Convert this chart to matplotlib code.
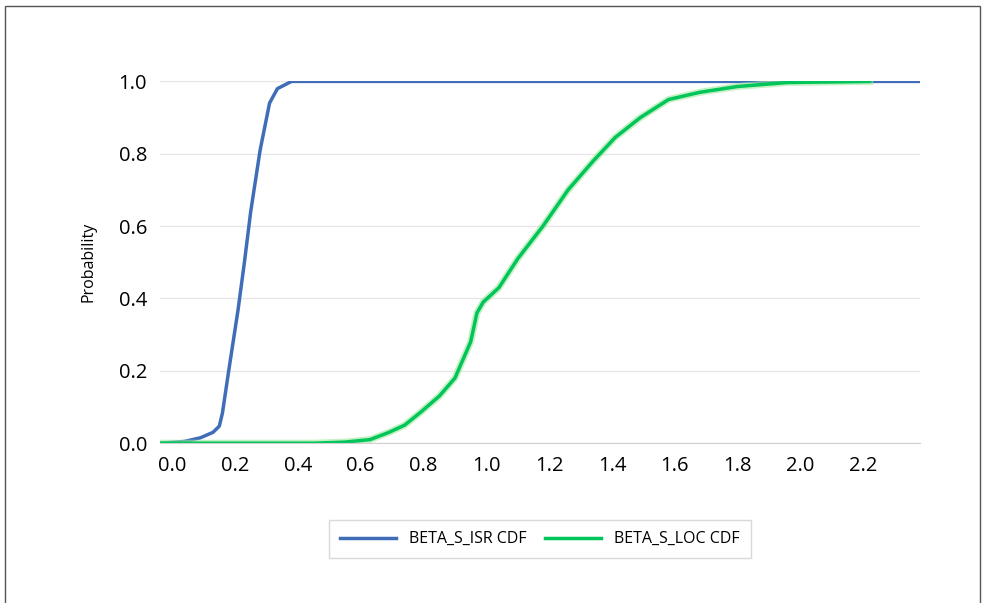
import matplotlib
matplotlib.use("Agg")
import matplotlib.pyplot as plt

plt.rcParams['font.family'] = ['Open Sans', 'DejaVu Sans']

isr_x = [-0.035, 0.04, 0.09, 0.13, 0.15, 0.16, 0.18, 0.21, 0.23, 0.25, 0.28, 0.31, 0.335, 0.38, 2.38]
isr_y = [0.0, 0.005, 0.015, 0.03, 0.047, 0.083, 0.2, 0.37, 0.5, 0.64, 0.81, 0.94, 0.98, 1.0, 1.0]

loc_x = [-0.035, 0.45, 0.55, 0.63, 0.69, 0.74, 0.79, 0.85, 0.9, 0.93, 0.95, 0.97, 0.99, 1.04,
         1.1, 1.18, 1.26, 1.34, 1.41, 1.49, 1.58, 1.68, 1.8, 1.96, 2.22]
loc_y = [0.0, 0.0, 0.003, 0.01, 0.03, 0.05, 0.085, 0.13, 0.18, 0.24, 0.28, 0.36, 0.39, 0.43,
         0.51, 0.6, 0.7, 0.78, 0.845, 0.9, 0.95, 0.97, 0.986, 0.997, 1.0]

xticks = [0.0, 0.2, 0.4, 0.6, 0.8, 1.0, 1.2, 1.4, 1.6, 1.8, 2.0, 2.2]
yticks = [0.0, 0.2, 0.4, 0.6, 0.8, 1.0]

fig = plt.figure(figsize=(9.85, 6.03), dpi=100)
ax = fig.add_axes([0.162, 0.265, 0.772, 0.6])

ax.plot(isr_x, isr_y, color="#3F6DB8", lw=2.5, label="BETA_S_ISR CDF")
ax.plot(loc_x, loc_y, color="#9EE89A", lw=5, alpha=0.6)
ax.plot(loc_x, loc_y, color="#00C55A", lw=2.5, label="BETA_S_LOC CDF")

ax.set_xlim(-0.04, 2.38)
ax.set_ylim(0, 1.0)
ax.set_xticks(xticks)
ax.set_xticklabels([f"{v:.1f}" for v in xticks])
ax.set_yticks(yticks)
ax.set_yticklabels([f"{v:.1f}" for v in yticks])
ax.tick_params(length=0, labelsize=14.5, pad=9)
ax.grid(axis="y", color="#E6E6E6", lw=1)
for s in ["top", "right", "left"]:
    ax.spines[s].set_visible(False)
ax.spines["bottom"].set_color("#D0D0D0")
ax.set_ylabel("Probability", fontsize=11.5, labelpad=16)

ax.legend(loc="upper center", bbox_to_anchor=(0.5, -0.19), ncol=2, frameon=True,
          fancybox=False, edgecolor="#D0D0D0", fontsize=11.5, handlelength=3.5,
          borderpad=0.7, columnspacing=1.2)

fig.patches.append(plt.Rectangle((0.005, -0.01), 0.99, 1.0, transform=fig.transFigure,
                                 fill=False, edgecolor="#555555", lw=1))
fig.savefig("out.png")
